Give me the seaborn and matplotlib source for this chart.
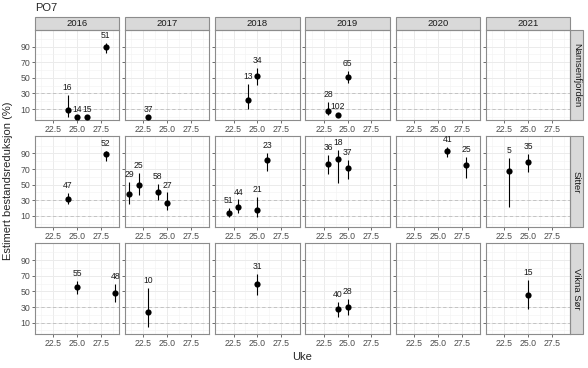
import matplotlib.pyplot as plt
import pandas as pd
import seaborn as sns
from matplotlib.patches import Rectangle

# values
years = [2016, 2017, 2018, 2019, 2020, 2021]
sites = ['Namsenfjorden', 'Sitter', 'Vikna Sør']

site = (['Namsenfjorden'] * 10 + ['Sitter'] * 17 + ['Vikna Sør'] * 7)
year = [2016, 2016, 2016, 2016, 2017, 2018, 2018, 2019, 2019, 2019,
        2016, 2016, 2017, 2017, 2017, 2017, 2018, 2018, 2018, 2018,
        2019, 2019, 2019, 2020, 2020, 2021, 2021,
        2016, 2016, 2017, 2018, 2019, 2019, 2021]
week = [24, 25, 26, 28, 23, 24, 25, 23, 24, 25,
        24, 28, 21, 22, 24, 25, 22, 23, 25, 26,
        23, 24, 25, 26, 28, 23, 25,
        25, 29, 23, 25, 24, 25, 25]
estimate = [9, 0, 0, 90, 0, 21, 52, 8, 2, 51,
            32, 89, 38, 50, 41, 27, 14, 22, 18, 82,
            77, 83, 71, 93, 75, 68, 79,
            56, 48, 24, 60, 27, 30, 45]
lower = [0, 0, 0, 82, 0, 10, 41, 2, 0, 43,
         25, 80, 25, 37, 30, 17, 8, 14, 8, 68,
         64, 52, 57, 85, 58, 21, 66,
         47, 37, 5, 45, 17, 20, 27]
upper = [28, 0, 0, 95, 0, 42, 63, 19, 4, 59,
         39, 93, 53, 65, 51, 40, 20, 31, 34, 91,
         88, 94, 82, 98, 86, 84, 89,
         64, 60, 54, 73, 37, 40, 65]
n_fish = [16, 14, 15, 51, 37, 13, 34, 28, 102, 65,
          47, 52, 29, 25, 58, 27, 51, 44, 21, 23,
          36, 18, 37, 41, 25, 5, 35,
          55, 48, 10, 31, 40, 28, 15]

df = pd.DataFrame({'site': site, 'year': year, 'week': week, 'est': estimate,
                   'lo': lower, 'hi': upper, 'n': n_fish})

sns.set_theme(style='white')
plt.rcParams['font.family'] = ['Liberation Sans', 'DejaVu Sans']

fig, axes = plt.subplots(3, 6, figsize=(5.88, 3.68), dpi=100)
fig.subplots_adjust(left=35/588, right=570/588, top=1-29.5/368, bottom=1-334/368,
                    wspace=0.071, hspace=0.175)

border = '#8C8C8C'
for i, s in enumerate(sites):
    for j, yr in enumerate(years):
        ax = axes[i, j]
        ax.set_xlim(20.6, 29.4)
        ax.set_ylim(-4.5, 112)
        ax.set_xticks([22.5, 25.0, 27.5])
        ax.set_xticklabels(['22.5', '25.0', '27.5'])
        ax.set_xticks([21.25, 23.75, 26.25, 28.75], minor=True)
        ax.set_yticks([10, 30, 50, 70, 90])
        ax.set_yticks([0, 20, 40, 60, 80, 100], minor=True)
        ax.grid(which='major', color='#EBEBEB', lw=0.7)
        ax.grid(which='minor', color='#F2F2F2', lw=0.4)
        ax.set_axisbelow(True)
        for sp in ax.spines.values():
            sp.set_color(border)
            sp.set_linewidth(0.8)
        ax.tick_params(which='major', length=2, width=0.6, color='#555555',
                       labelsize=6.3, labelcolor='#4D4D4D', pad=1.5,
                       left=True, bottom=True, labelleft=(j == 0))
        ax.tick_params(which='minor', length=0)
        ax.axhline(10, color='#BDBDBD', lw=0.6, ls=(0, (4, 3)), zorder=1)
        ax.axhline(30, color='#BDBDBD', lw=0.6, ls=(0, (4, 3)), zorder=1)

        sub = df[(df.site == s) & (df.year == yr)]
        if len(sub):
            ax.vlines(sub.week, sub.lo, sub.hi, color='black', lw=0.8, zorder=2)
            sns.scatterplot(data=sub, x='week', y='est', ax=ax, color='black',
                            s=20, linewidth=0, legend=False, zorder=3)
            for _, r in sub.iterrows():
                ax.text(r.week, r.hi + 9.5, str(r.n), ha='center', va='center',
                        fontsize=6.2, color='#1A1A1A')
        ax.set_xlabel('')
        ax.set_ylabel('')

        if i == 0:
            ax.add_patch(Rectangle((0, 1), 1, 0.143, transform=ax.transAxes,
                                   clip_on=False, facecolor='#D9D9D9',
                                   edgecolor=border, lw=0.8))
            ax.text(0.5, 1.0715, str(yr), transform=ax.transAxes, ha='center',
                    va='center', fontsize=6.8, color='#1A1A1A')
        if j == 5:
            ax.add_patch(Rectangle((1, 0), 0.155, 1, transform=ax.transAxes,
                                   clip_on=False, facecolor='#D9D9D9',
                                   edgecolor=border, lw=0.8))
            ax.text(1.0775, 0.5, s, transform=ax.transAxes, ha='center',
                    va='center', rotation=-90, fontsize=6.8, color='#1A1A1A')

fig.text(35/588, 1-8/368, 'PO7', fontsize=8, va='center', ha='left')
fig.text(8/588, 1-181/368, 'Estimert bestandsreduksjon (%)', rotation=90,
         fontsize=8, va='center', ha='center')
fig.text(302/588, 1-357/368, 'Uke', fontsize=8, va='center', ha='center')

fig.savefig('out.png', dpi=100)
